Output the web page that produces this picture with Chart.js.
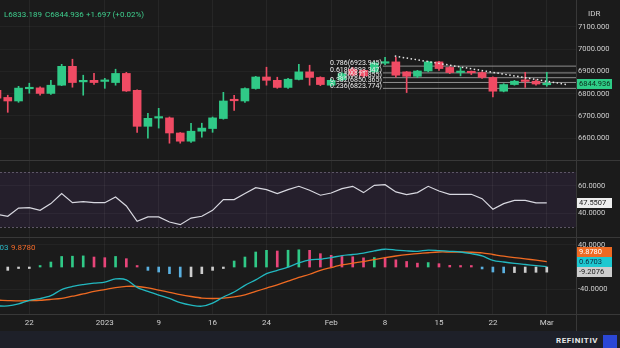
<!DOCTYPE html>
<html>
<head>
<meta charset="utf-8">
<script src="https://cdn.jsdelivr.net/npm/chart.js@4.4.1/dist/chart.umd.min.js"></script>
<style>
    html, body { margin: 0; padding: 0; }
    body { width: 620px; height: 348px; overflow: hidden; background: #1b1b1b; position: relative; font-family: Roboto, 'Noto Sans', sans-serif; }
    canvas { position: absolute; left: 0; }
    .txt { position: absolute; white-space: nowrap; font-size: 8px; line-height: 10px; }
    .sep-h { position: absolute; left: 0; width: 620px; height: 1px; background: #383838; }
    .sep-v { position: absolute; left: 576px; top: 0; width: 1px; height: 331px; background: #383838; }
    .footer { position: absolute; left: 0; top: 331px; width: 620px; height: 17px; background: #1e2029; }
</style>
</head>
<body>
<canvas id="chart-price" width="620" height="161" style="top:0"></canvas>
<canvas id="chart-rsi" width="620" height="76" style="top:161px"></canvas>
<canvas id="chart-macd" width="620" height="94" style="top:237px"></canvas>

<div class="sep-h" style="top:160px"></div>
<div class="sep-h" style="top:237px"></div>
<div class="sep-h" style="top:314px"></div>
<div class="sep-v"></div>
<div class="footer"></div>

<div class="txt" id="hdr-low" style="left:4px;top:10px;color:#3fcf8e"></div>
<div class="txt" id="hdr-close" style="left:45px;top:10px;color:#3fcf8e"></div>
<div class="txt" id="hdr-chg" style="left:86px;top:10px;color:#3fcf8e"></div>
<div class="txt" style="left:588px;top:9px;color:#cfcfcf">IDR</div>
<div class="txt" id="hdr-macd" style="left:-16px;top:243px;color:#2ab7c4"></div>
<div class="txt" id="hdr-signal" style="left:11px;top:243px;color:#f26a2a"></div>
<div class="txt" style="left:556px;top:336px;color:#e8e8e8;font-weight:bold;letter-spacing:0.6px">REFINITIV</div>
<div style="position:absolute;left:603px;top:335px;width:14px;height:13px;background:#2b47d6"></div>

<script>
// daily candles, 19 Dec 2022 .. 1 Mar 2023
const opens  = [6815, 6783, 6767, 6822, 6826, 6801, 6838, 6923, 6853, 6860, 6855, 6850, 6891, 6815, 6653, 6690, 6691, 6623, 6586, 6631,
                6643, 6688, 6771, 6767, 6823, 6875, 6860, 6828, 6864, 6898, 6873, 6838, 6862, 6910, 6905, 6898, 6937, 6943, 6898, 6878,
                6902, 6943, 6918, 6895, 6897, 6895, 6873, 6811, 6841, 6857, 6856, 6840];
const highs  = [6822, 6793, 6833, 6847, 6831, 6860, 6932, 6955, 6883, 6892, 6869, 6910, 6896, 6817, 6712, 6734, 6695, 6625, 6667, 6667,
                6695, 6806, 6793, 6826, 6878, 6919, 6874, 6869, 6932, 6928, 6876, 6866, 6895, 6918, 6910, 6945, 6964, 6964, 6900, 6905,
                6946, 6946, 6922, 6918, 6902, 6898, 6876, 6845, 6860, 6896, 6862, 6896];
const lows   = [6775, 6716, 6761, 6802, 6793, 6797, 6836, 6829, 6793, 6842, 6824, 6838, 6810, 6626, 6600, 6645, 6577, 6577, 6581, 6604,
                6626, 6685, 6725, 6761, 6820, 6838, 6824, 6824, 6862, 6838, 6836, 6834, 6858, 6880, 6872, 6895, 6930, 6874, 6805, 6872,
                6898, 6905, 6890, 6880, 6886, 6868, 6785, 6808, 6838, 6828, 6838, 6833.189];
const closes = [6780, 6767, 6825, 6824, 6801, 6838, 6923, 6850, 6860, 6850, 6857, 6891, 6812, 6653, 6689, 6693, 6623, 6586, 6631, 6645,
                6691, 6767, 6768, 6823, 6875, 6860, 6828, 6865, 6898, 6873, 6841, 6860, 6890, 6884, 6880, 6938, 6940, 6883, 6878, 6902,
                6943, 6913, 6895, 6897, 6894, 6873, 6811, 6841, 6856, 6855, 6843.239, 6844.936];

const rsiValues = [39.2, 37.8, 43.8, 44.1, 42.1, 47.0, 54.3, 47.7, 48.5, 47.7, 47.7, 51.8, 45.3, 34.1, 37.3, 37.3, 33.6, 31.7, 36.5, 37.8,
                   42.1, 49.9, 49.9, 54.3, 58.6, 57.2, 54.3, 57.2, 59.6, 56.7, 53.1, 54.7, 57.9, 59.6, 55.0, 60.3, 60.8, 55.5, 53.6, 55.0,
                   59.6, 56.2, 53.8, 53.8, 53.8, 50.6, 42.9, 47.0, 49.4, 49.4, 47.5, 47.5507];

const macdLine   = [-70, -70, -66.5, -60, -56.8, -51.5, -40.5, -35, -31.6, -29, -27, -21.5, -23, -36.5, -44, -50.5, -56.5, -64, -68.5, -70.5,
                    -65, -54, -45, -33, -23, -12, -6, 0, 7.5, 13, 14, 17, 20.5, 22.5, 25, 29, 32, 30.5, 29, 28.3,
                    30.5, 29.5, 28.3, 27, 24, 20, 12, 9, 6.5, 4.5, 2.5, 0.6703];
const signalLine = [-59.5, -60.3, -61, -60.5, -59.8, -58.3, -56.5, -52.5, -48.5, -44, -40.5, -37, -34.8, -35, -37.5, -41.5, -45.5, -49.6, -53, -55.8,
                    -56.6, -56, -53.6, -50, -44, -37.8, -32, -25.5, -18.5, -13, -6, -1, 3.7, 7, 9.8, 13.5, 16.8, 19.8, 22.3, 24,
                    25.7, 27, 27, 27, 26.6, 25.5, 22.5, 19.5, 17, 14.8, 12.3, 9.878];
const histValues = [-8, -6, -1.2, -0.6, 0.6, 9, 19, 19.5, 20, 18, 16.8, 19, 15, 0.6, -6, -9, -12, -18, -17.5, -12,
                    -6, -0.8, 10.8, 18, 27, 30, 28.8, 30.2, 31, 30, 24, 21, 19, 18.5, 16.5, 17, 16, 13, 10, 7,
                    8, 6, 3, 1.5, 1, -3.5, -9, -10.5, -10, -9.8, -9.5, -9.2076];

const xTickIdx    = [3, 10, 15, 20, 25, 31, 36, 41, 46, 51];
const xTickLabels = ['22', '2023', '9', '16', '24', 'Feb', '8', '15', '22', 'Mar'];
const priceTicks  = [6600, 6700, 6800, 6900, 7000, 7100];
const rsiTicks    = [40, 60];
const rsiBand     = [30, 70];
const macdTicks   = [-40, 40];

const fibRatios  = [0.786, 0.618, 0.5, 0.382, 0.236];
const fibPrices  = [6923.945, 6893.347, 6871.855, 6850.365, 6823.774];
const fibFromIdx = 35.8;
const trendIdx   = [36.9, 52.85];
const trendPrice = [6969, 6841];

// visible window
const X_MIN = 0.28, X_MAX = 53.71;

const GREEN = '#30c987', RED = '#f04b64', PINK = '#e8457a', BLUE = '#5ab0e0', GREY = '#cdcdcd';
const CYAN = '#22b8c0', ORANGE = '#ef6a22';
const last = closes.length - 1;
const idx = closes.map((_, i) => i);

document.getElementById('hdr-low').textContent = 'L' + lows[last].toFixed(3);
document.getElementById('hdr-close').textContent = 'C' + closes[last].toFixed(3);
const chg = closes[last] - closes[last - 1];
document.getElementById('hdr-chg').textContent = (chg >= 0 ? '+' : '') + chg.toFixed(3) + ' (' + (chg >= 0 ? '+' : '') + (chg / closes[last - 1] * 100).toFixed(2) + '%)';
document.getElementById('hdr-macd').textContent = macdLine[last].toFixed(4);
document.getElementById('hdr-signal').textContent = signalLine[last].toFixed(4);

function xScale(showLabels) {
    return {
        type: 'linear', min: X_MIN, max: X_MAX, offset: false,
        grid: { color: 'rgba(255,255,255,0.05)', drawTicks: false, offset: false },
        border: { display: false },
        ticks: {
            display: showLabels, color: '#d0d0d0', font: { size: 8, family: 'Roboto' },
            padding: 4, maxRotation: 0, autoSkip: false,
            callback: v => xTickLabels[xTickIdx.indexOf(v)] ?? ''
        },
        afterBuildTicks: s => { s.ticks = xTickIdx.map(v => ({ value: v })); },
        afterFit: s => { s.height = showLabels ? 17 : 0; s.paddingLeft = 0; s.paddingRight = 0; }
    };
}

function yScale(min, max, ticks, digits) {
    return {
        position: 'right', min, max,
        grid: { color: 'rgba(255,255,255,0.04)', drawTicks: false },
        border: { display: false },
        ticks: { color: '#cfcfcf', font: { size: 7.5, family: 'Roboto' }, padding: 2, callback: v => v.toFixed(digits) },
        afterBuildTicks: s => { s.ticks = ticks.map(v => ({ value: v })); },
        afterFit: s => { s.width = 44; s.paddingTop = 0; s.paddingBottom = 0; }
    };
}

function baseOptions(scales) {
    return {
        responsive: false, animation: false, events: [],
        layout: { padding: 0 },
        plugins: { legend: { display: false }, tooltip: { enabled: false } },
        scales
    };
}

function drawValueBox(chart, y, text, bg, fg) {
    const { ctx, chartArea } = chart;
    ctx.save();
    ctx.fillStyle = bg;
    ctx.fillRect(chartArea.right + 1, Math.round(y - 5), 35, 10);
    ctx.fillStyle = fg;
    ctx.font = '7.5px Roboto';
    ctx.textAlign = 'left';
    ctx.textBaseline = 'middle';
    ctx.fillText(text, chartArea.right + 3, Math.round(y) + 0.5);
    ctx.restore();
}

const candleColor = c => closes[c.dataIndex] >= opens[c.dataIndex] ? GREEN : RED;

const fibLabels = {
    id: 'fibLabels',
    afterDatasetsDraw(chart) {
        const { ctx, scales } = chart;
        const xr = scales.x.getPixelForValue(fibFromIdx) - 1;
        ctx.save();
        ctx.font = '7px Roboto';
        ctx.fillStyle = '#ececec';
        ctx.textAlign = 'right';
        ctx.textBaseline = 'bottom';
        fibRatios.forEach((r, i) => {
            ctx.fillText(`${r}(${fibPrices[i].toFixed(3)})`, xr, scales.y.getPixelForValue(fibPrices[i]) + 1);
        });
        ctx.restore();
    },
    afterDraw(chart) {
        drawValueBox(chart, chart.scales.y.getPixelForValue(closes[last]), closes[last].toFixed(3), '#2ecc87', '#0d2b1c');
    }
};

new Chart(document.getElementById('chart-price'), {
    type: 'bar',
    data: {
        datasets: [
            ...fibPrices.map(p => ({
                type: 'line', data: [{ x: fibFromIdx, y: p }, { x: X_MAX, y: p }],
                borderColor: '#8f8f8f', borderWidth: 1, pointRadius: 0, order: 5
            })),
            {
                type: 'bar', data: idx.map(i => ({ x: i, y: [lows[i], highs[i]] })),
                backgroundColor: candleColor, barThickness: 1, grouped: false, order: 3
            },
            {
                type: 'bar', data: idx.map(i => ({ x: i, y: [opens[i], closes[i]] })),
                backgroundColor: candleColor, barThickness: 8, minBarLength: 1.5, grouped: false, order: 2
            },
            {
                type: 'line', data: trendIdx.map((t, i) => ({ x: t, y: trendPrice[i] })),
                borderColor: '#e6e6e6', borderWidth: 1.5, borderDash: [1.5, 2.5], pointRadius: 0, order: 0
            }
        ]
    },
    options: baseOptions({ x: xScale(false), y: yScale(6496.9, 7221.5, priceTicks, 3) }),
    plugins: [fibLabels]
});

const rsiDecor = {
    id: 'rsiDecor',
    beforeDraw(chart) {
        const { ctx, chartArea, scales: { y } } = chart;
        const top = Math.round(y.getPixelForValue(rsiBand[1])), bot = Math.round(y.getPixelForValue(rsiBand[0]));
        ctx.save();
        ctx.fillStyle = '#251f2c';
        ctx.fillRect(chartArea.left, top, chartArea.width, bot - top);
        ctx.strokeStyle = '#5d5666';
        ctx.setLineDash([2, 2]);
        ctx.lineWidth = 1;
        [top, bot].forEach(py => {
            ctx.beginPath();
            ctx.moveTo(chartArea.left, py + 0.5);
            ctx.lineTo(chartArea.right, py + 0.5);
            ctx.stroke();
        });
        ctx.restore();
    },
    afterDraw(chart) {
        drawValueBox(chart, chart.scales.y.getPixelForValue(rsiValues[last]), rsiValues[last].toFixed(4), '#eeeeee', '#1a1a1a');
    }
};

new Chart(document.getElementById('chart-rsi'), {
    type: 'line',
    data: {
        datasets: [{
            data: idx.map(i => ({ x: i, y: rsiValues[i] })),
            borderColor: '#d8d8e0', borderWidth: 1.2, pointRadius: 0, tension: 0
        }]
    },
    options: baseOptions({ x: xScale(false), y: yScale(22.73, 78, rsiTicks, 4) }),
    plugins: [rsiDecor]
});

const histColors = histValues.map((v, i) => {
    const prev = i > 0 ? histValues[i - 1] : v;
    if (v >= 0) return v >= prev ? GREEN : PINK;
    return v < prev ? BLUE : GREY;
});

const macdBoxes = {
    id: 'macdBoxes',
    afterDraw(chart) {
        const y = chart.scales.y;
        const items = [
            { v: signalLine[last], bg: ORANGE, fg: '#ffffff' },
            { v: macdLine[last], bg: '#1ec8d0', fg: '#0b2a40' },
            { v: histValues[last], bg: GREY, fg: '#1a1a1a' }
        ].map(it => ({ ...it, py: y.getPixelForValue(it.v) })).sort((a, b) => b.py - a.py);
        let prev = Infinity;
        items.forEach(it => {
            const py = Math.min(it.py, prev - 10);
            drawValueBox(chart, py, it.v.toFixed(4), it.bg, it.fg);
            prev = py;
        });
    }
};

new Chart(document.getElementById('chart-macd'), {
    type: 'bar',
    data: {
        datasets: [
            {
                type: 'line', data: idx.map(i => ({ x: i, y: macdLine[i] })),
                borderColor: CYAN, borderWidth: 1.3, pointRadius: 0, tension: 0.3, order: 0
            },
            {
                type: 'line', data: idx.map(i => ({ x: i, y: signalLine[i] })),
                borderColor: ORANGE, borderWidth: 1.3, pointRadius: 0, tension: 0.3, order: 1
            },
            {
                type: 'bar', data: idx.map(i => ({ x: i, y: histValues[i] })),
                backgroundColor: histColors, barThickness: 2, minBarLength: 1.5, grouped: false, order: 2
            }
        ]
    },
    options: baseOptions({ x: xScale(true), y: yScale(-84.5, 54, macdTicks, 4) }),
    plugins: [macdBoxes]
});
</script>
</body>
</html>
